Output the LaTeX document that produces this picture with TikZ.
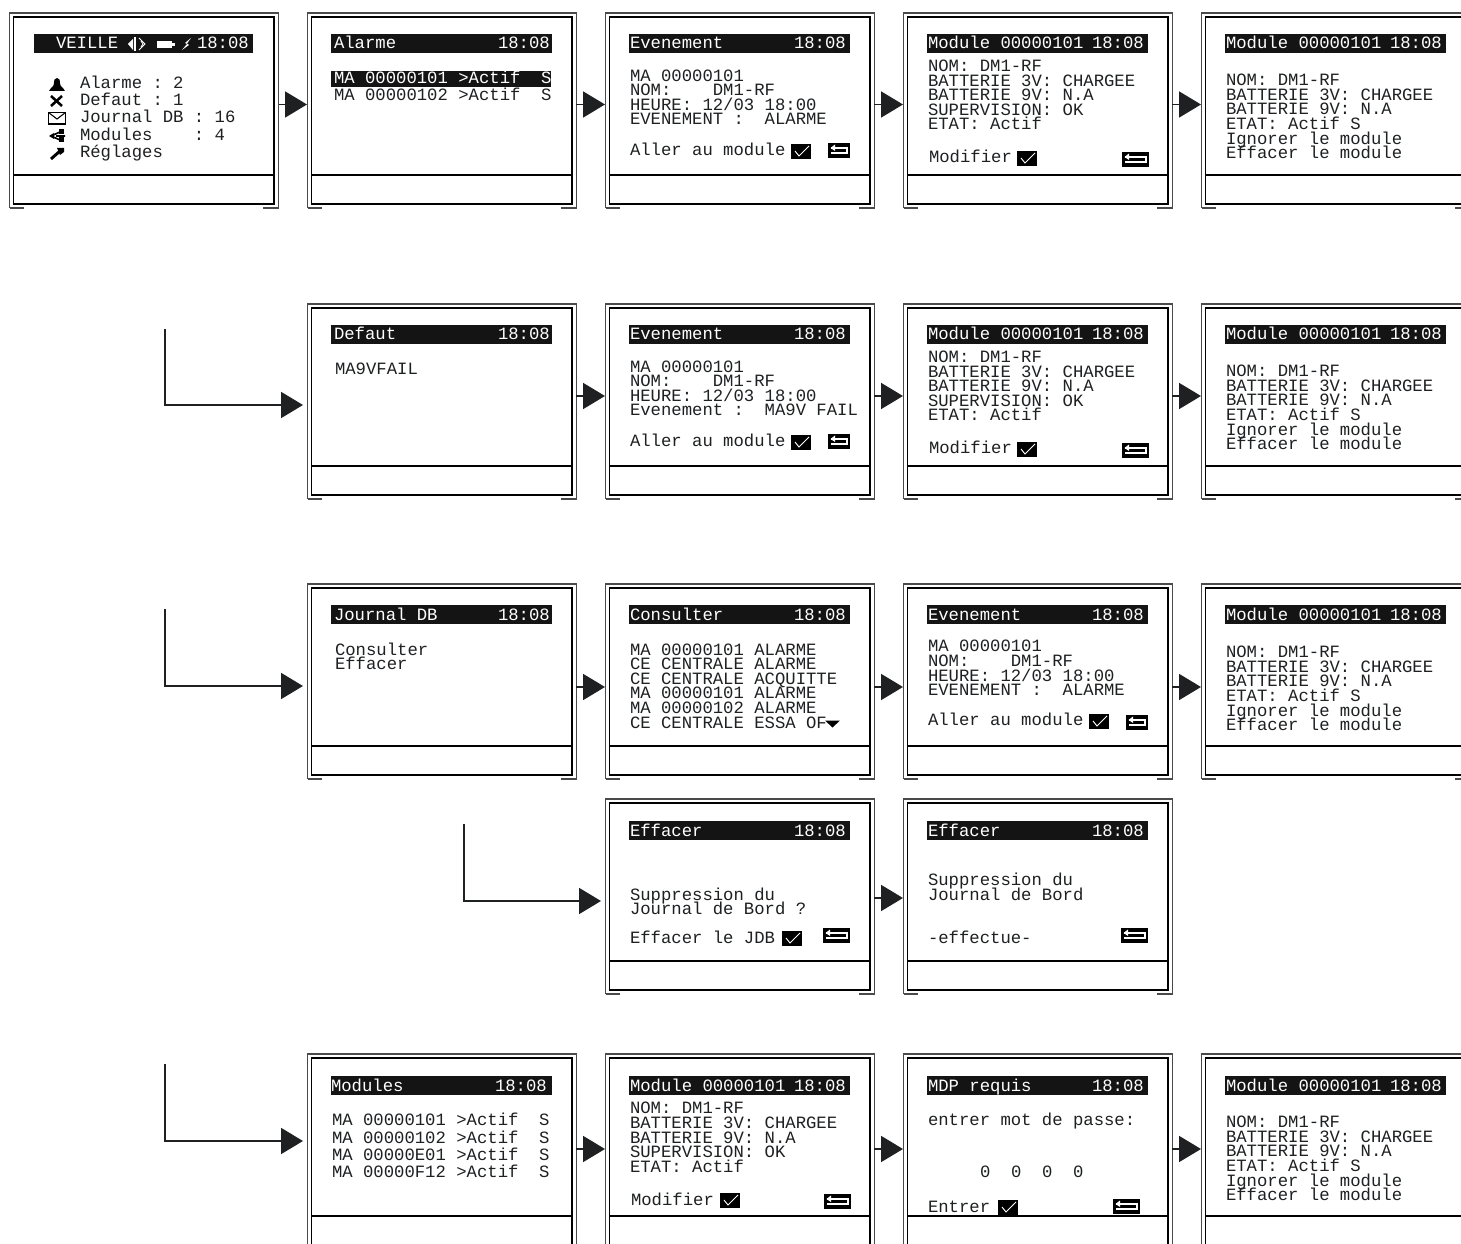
\documentclass[tikz,border=0pt]{standalone}
\usepackage{fontspec}
\setmonofont{Liberation Mono}
\usetikzlibrary{arrows.meta,calc}
\definecolor{lcdink}{HTML}{1E2022}
\definecolor{framegray}{HTML}{4A4A4A}
\newcounter{tln}
\tikzset{
  lcdtext/.style={anchor=base west,inner sep=0pt,outer sep=0pt,text=lcdink,font=\ttfamily\fontsize{12.95pt}{14pt}\selectfont},
  lcdinv/.style={lcdtext,text=white},
  flow/.style={draw=lcdink,line width=1.4pt,-{Triangle[length=16.5pt,width=19.5pt]}},
  elbow/.style={flow,rounded corners=0pt,shorten >=3pt},
  screenbox/.style={anchor=north west,inner sep=0pt,outer sep=0pt,minimum width=201.75pt,minimum height=146.25pt},
  outerframe/.style={draw=framegray,line width=0.9pt},
  innerframe/.style={draw=black,line width=0.9pt}
}
% text line
\newcommand{\tl}[3]{\stepcounter{tln}\node[lcdtext] (t\arabic{tln}) at (#1,#2) {\strut\vphantom{}#3};}
\newcommand{\ti}[3]{\stepcounter{tln}\node[lcdinv] (t\arabic{tln}) at (#1,#2) {#3};}
% screen: name, x, y
\newcommand{\lcdscreen}[3]{%
  \node[screenbox] (#1) at (#2,#3) {};
  \begin{scope}[shift={(#2,#3)}]
    \draw[outerframe] (0.5,195) -- (0.5,0) -- (269.5,0) -- (269.5,195) -- (254,195);
    \draw[outerframe] (0.5,195) -- (15,195);
    \draw[innerframe] (4.5,4) rectangle (265,191);
    \draw[innerframe] (4.5,162) -- (265,162);
  \end{scope}}
% header: x, y, left text, right text, right text x
\newcommand{\hdr}[5]{%
  \fill[black!92] (#1,#2) rectangle ++(221,19);
  \ti{#3}{\the\numexpr#2+15\relax}{#4}
  \ti{#5}{\the\numexpr#2+15\relax}{18:08}}
\newcommand{\chk}[2]{\begin{scope}[shift={(#1,#2)}]
  \fill[black] (0,0) rectangle (20,15);
  \draw[white,line width=0.7pt] (4,7) -- (8,12) -- (18,2);
\end{scope}}
\newcommand{\bck}[3]{\begin{scope}[shift={(#1,#2)}]
  \fill[black] (0,0) rectangle (#3,15);
  \draw[white,line width=0.8pt] (3,5) -- ($(#3,5)+(-3,0)$) -- ($(#3,10)+(-3,0)$) -- (3,10);
  \fill[white] (2.5,5) -- (7,1.5) -- (7,8) -- cycle;
\end{scope}}
% module detail (6 lines): x,y offset of row 1
\newcommand{\detailshort}[2]{%
  \tl{#1}{\the\numexpr#2+72\relax}{NOM: DM1-RF}
  \tl{#1}{\the\numexpr#2+87\relax}{BATTERIE 3V: CHARGEE}
  \tl{#1}{\the\numexpr#2+101\relax}{BATTERIE 9V: N.A}
  \tl{#1}{\the\numexpr#2+116\relax}{SUPERVISION: OK}
  \tl{#1}{\the\numexpr#2+130\relax}{ETAT: Actif}}
\newcommand{\detaillong}[2]{%
  \tl{#1}{\the\numexpr#2+86\relax}{NOM: DM1-RF}
  \tl{#1}{\the\numexpr#2+101\relax}{BATTERIE 3V: CHARGEE}
  \tl{#1}{\the\numexpr#2+115\relax}{BATTERIE 9V: N.A}
  \tl{#1}{\the\numexpr#2+130\relax}{ETAT: Actif S}
  \tl{#1}{\the\numexpr#2+145\relax}{Ignorer le module}
  \tl{#1}{\the\numexpr#2+159\relax}{Effacer le module}}
\newcommand{\eventlines}[3]{%
  \tl{#1}{\the\numexpr#2+82\relax}{MA 00000101}
  \tl{#1}{\the\numexpr#2+96\relax}{NOM:\ \ \ \ DM1-RF}
  \tl{#1}{\the\numexpr#2+111\relax}{HEURE: 12/03 18:00}
  \tl{#1}{\the\numexpr#2+125\relax}{#3}}
\begin{document}
\begin{tikzpicture}[x=0.75pt,y=-0.75pt]
\useasboundingbox (0,0) rectangle (1461,1244);
\fill[white] (0,0) rectangle (1461,1244);
\clip (0,0) rectangle (1461,1244);
% ---------- row 1
\lcdscreen{sA}{9}{13}
\lcdscreen{sB}{307}{13}
\lcdscreen{sC}{605}{13}
\lcdscreen{sD}{903}{13}
\lcdscreen{sE}{1201}{13}
% row 1, col 0
\fill[black!92] (34,34) rectangle (253,53);
\ti{56}{49}{VEILLE}
\ti{197}{49}{18:08}
\fill[white] (128,44) -- (133,39) -- (133,50) -- cycle;
\fill[white] (134,37) rectangle (136,51);
\draw[white,line width=0.7pt] (139,38) -- (145,44) -- (139,50);
\draw[white,line width=0.7pt] (141,41) -- (143,44) -- (141,47);
\fill[white] (157,41) rectangle (172,48);
\fill[white] (172,43) rectangle (175,46);
\fill[white] (191,38) -- (185,43) -- (187,44) -- (182,50) -- (189,45) -- (187,43.5) -- cycle;
\tl{80}{89}{Alarme : 2}
\tl{80}{106}{Defaut : 1}
\tl{80}{123}{Journal DB : 16}
\tl{80}{141}{Modules\ \ \ \ : 4}
\tl{80}{158}{Réglages}
% bell
\fill[black] (57,78) .. controls (60,78) and (60,81) .. (60,83) .. controls (60,87) and (63,87) .. (65,91) -- (49,91) .. controls (51,87) and (54,87) .. (54,83) .. controls (54,81) and (54,78) .. (57,78) -- cycle;
% cross
\draw[black,line width=1.9pt] (51,96) -- (62,106) (62,96) -- (51,106);
% envelope
\draw[black,line width=0.8pt] (48.5,112.5) rectangle (65.5,124);
\draw[black,line width=0.8pt] (48.5,112.5) -- (57,119) -- (65.5,112.5);
% share
\fill[black] (49,136) -- (54,133) -- (54,139) -- cycle;
\fill[black] (59,129.5) rectangle (64,134.5);
\fill[black] (59,137.5) rectangle (64,142.5);
\draw[black,line width=1.2pt] (51,136) -- (60,132) (51,136) -- (60,140) (56,136) -- (65,136);
% wrench
\draw[black,line width=2.2pt] (51,159) -- (60,151);
\fill[black] (57,148) -- (64,148) -- (64,152) -- (60,155) -- cycle;
% row 1, col 1
\hdr{331}{34}{334}{Alarme}{498}
\fill[black!92] (331,71) rectangle (551,87);
\ti{334}{84}{MA 00000101 >Actif\ \ S}
\tl{334}{101}{MA 00000102 >Actif\ \ S}
% row 1, col 2
\hdr{629}{34}{630}{Evenement}{794}
\eventlines{630}{0}{EVENEMENT :\ \ ALARME}
\tl{630}{156}{Aller au module}
\chk{791}{144}
\bck{828}{143}{22}
% row 1, col 3
\hdr{927}{34}{928}{Module 00000101}{1092}
\detailshort{928}{0}
\tl{929}{163}{Modifier}
\chk{1017}{151}
\bck{1122}{152}{27}
% row 1, col 4
\hdr{1225}{34}{1226}{Module 00000101}{1390}
\detaillong{1226}{0}
% ---------- row 2
\lcdscreen{sF}{307}{304}
\lcdscreen{sG}{605}{304}
\lcdscreen{sH}{903}{304}
\lcdscreen{sI}{1201}{304}
\hdr{331}{325}{334}{Defaut}{498}
\tl{335}{375}{MA9VFAIL}
\hdr{629}{325}{630}{Evenement}{794}
\eventlines{630}{291}{Evenement :\ \ MA9V FAIL}
\tl{630}{447}{Aller au module}
\chk{791}{435}
\bck{828}{434}{22}
\hdr{927}{325}{928}{Module 00000101}{1092}
\detailshort{928}{291}
\tl{929}{454}{Modifier}
\chk{1017}{442}
\bck{1122}{443}{27}
\hdr{1225}{325}{1226}{Module 00000101}{1390}
\detaillong{1226}{291}
% ---------- row 3
\lcdscreen{sJ}{307}{584}
\lcdscreen{sK}{605}{584}
\lcdscreen{sL}{903}{584}
\lcdscreen{sM}{1201}{584}
\hdr{331}{605}{334}{Journal DB}{498}
\tl{335}{655}{Consulter}
\tl{335}{669}{Effacer}
\hdr{629}{605}{630}{Consulter}{794}
\tl{630}{655}{MA 00000101 ALARME}
\tl{630}{669}{CE CENTRALE ALARME}
\tl{630}{684}{CE CENTRALE ACQUITTE}
\tl{630}{698}{MA 00000101 ALARME}
\tl{630}{713}{MA 00000102 ALARME}
\tl{630}{728}{CE CENTRALE ESSA OF}
\fill[black] (825,720.5) -- (840,720.5) -- (832.5,727.5) -- cycle;
\hdr{927}{605}{928}{Evenement}{1092}
\tl{928}{651}{MA 00000101}
\tl{928}{666}{NOM:\ \ \ \ DM1-RF}
\tl{928}{681}{HEURE: 12/03 18:00}
\tl{928}{695}{EVENEMENT :\ \ ALARME}
\tl{928}{725}{Aller au module}
\chk{1089}{714}
\bck{1126}{715}{22}
\hdr{1225}{605}{1226}{Module 00000101}{1390}
\detaillong{1226}{571}
% ---------- row 4
\lcdscreen{sN}{605}{799}
\lcdscreen{sO}{903}{799}
\hdr{629}{821}{630}{Effacer}{794}
\tl{630}{900}{Suppression du}
\tl{630}{914}{Journal de Bord ?}
\tl{630}{943}{Effacer le JDB}
\chk{782}{931}
\bck{823}{928}{27}
\hdr{927}{821}{928}{Effacer}{1092}
\tl{928}{885}{Suppression du}
\tl{928}{900}{Journal de Bord}
\tl{928}{943}{-effectue-}
\bck{1121}{928}{27}
% ---------- row 5
\lcdscreen{sP}{307}{1054}
\lcdscreen{sQ}{605}{1054}
\lcdscreen{sR}{903}{1054}
\lcdscreen{sS}{1201}{1054}
\hdr{331}{1076}{331}{Modules}{495}
\tl{332}{1125}{MA 00000101 >Actif\ \ S}
\tl{332}{1143}{MA 00000102 >Actif\ \ S}
\tl{332}{1160}{MA 00000E01 >Actif\ \ S}
\tl{332}{1177}{MA 00000F12 >Actif\ \ S}
\hdr{629}{1076}{630}{Module 00000101}{794}
\tl{630}{1113}{NOM: DM1-RF}
\tl{630}{1128}{BATTERIE 3V: CHARGEE}
\tl{630}{1143}{BATTERIE 9V: N.A}
\tl{630}{1157}{SUPERVISION: OK}
\tl{630}{1172}{ETAT: Actif}
\tl{631}{1205}{Modifier}
\chk{720}{1193}
\bck{824}{1194}{27}
\hdr{927}{1076}{928}{MDP requis}{1092}
\tl{928}{1125}{entrer mot de passe:}
\tl{980}{1177}{0\ \ 0\ \ 0\ \ 0}
\tl{928}{1212}{Entrer}
\chk{998}{1200}
\bck{1113}{1199}{27}
\hdr{1225}{1076}{1226}{Module 00000101}{1390}
\detaillong{1226}{1041}
% ---------- connectors
\coordinate (lvlA) at (0,104.5);
\coordinate (lvlB) at (0,396);
\coordinate (lvlC) at (0,687);
\coordinate (lvlD) at (0,898);
\coordinate (lvlE) at (0,1149);
\draw[flow] (sA.east |- lvlA) ++(1,0) -- (sB.west |- lvlA);
\draw[flow] (sB.east |- lvlA) -- (sC.west |- lvlA);
\draw[flow] (sC.east |- lvlA) -- (sD.west |- lvlA);
\draw[flow] (sD.east |- lvlA) -- (sE.west |- lvlA);
\draw[flow] (sF.east |- lvlB) -- (sG.west |- lvlB);
\draw[flow] (sG.east |- lvlB) -- (sH.west |- lvlB);
\draw[flow] (sH.east |- lvlB) -- (sI.west |- lvlB);
\draw[flow] (sJ.east |- lvlC) -- (sK.west |- lvlC);
\draw[flow] (sK.east |- lvlC) -- (sL.west |- lvlC);
\draw[flow] (sL.east |- lvlC) -- (sM.west |- lvlC);
\draw[flow] (sN.east |- lvlD) -- (sO.west |- lvlD);
\draw[flow] (sP.east |- lvlE) -- (sQ.west |- lvlE);
\draw[flow] (sQ.east |- lvlE) -- (sR.west |- lvlE);
\draw[flow] (sR.east |- lvlE) -- (sS.west |- lvlE);
\coordinate (startF) at (165,329);
\coordinate (levelF) at (0,405);
\coordinate (startJ) at (165,609);
\coordinate (levelJ) at (0,686);
\coordinate (startN) at (464,824);
\coordinate (levelN) at (0,901);
\coordinate (startP) at (165,1064);
\coordinate (levelP) at (0,1141);
\draw[elbow] (startF) |- (sF.west |- levelF);
\draw[elbow] (startJ) |- (sJ.west |- levelJ);
\draw[elbow] (startN) |- (sN.west |- levelN);
\draw[elbow] (startP) |- (sP.west |- levelP);
\end{tikzpicture}
\end{document}
